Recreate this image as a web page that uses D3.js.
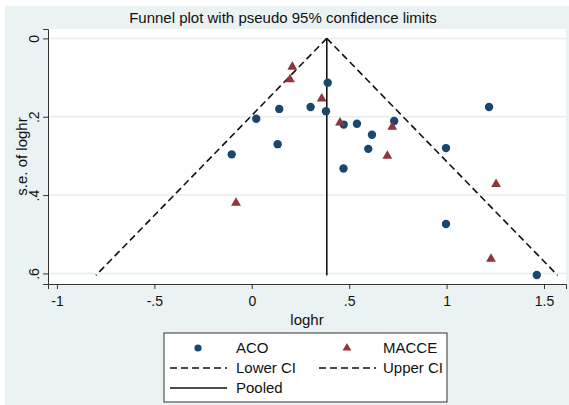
<!DOCTYPE html>
<html>
<head>
<meta charset="utf-8">
<script src="https://cdn.jsdelivr.net/npm/d3@7"></script>
<style>
  body { margin: 0; background: #fff; }
  svg text { font-family: "Liberation Sans", Arial, sans-serif; fill: #111; }
</style>
</head>
<body>
<div id="chart"></div>
<script>
// ACO studies: effect (loghr) and standard error
const acoLoghr = [0.390, 0.141, 0.302, 0.381, 0.023, 0.472, 0.540, 0.617, 0.133, -0.103, 0.598, 0.471, 0.731, 1.218, 0.997, 0.997, 1.463];
const acoSe    = [0.113, 0.180, 0.175, 0.186, 0.205, 0.220, 0.218, 0.246, 0.270, 0.296, 0.282, 0.332, 0.211, 0.175, 0.280, 0.474, 0.604];

// MACCE studies
const macceLoghr = [0.208, 0.196, 0.359, 0.453, -0.081, 0.721, 0.696, 1.254, 1.228];
const macceSe    = [0.0725, 0.105, 0.154, 0.215, 0.420, 0.226, 0.300, 0.372, 0.563];

// pooled estimate and pseudo 95% limits (ends of the lines)
const pooled = 0.385;
const ciSe = [0, 0.605];
const lowerCI = [0.385, -0.80];
const upperCI = [0.385, 1.57];

const xTicks = [-1, -0.5, 0, 0.5, 1, 1.5];
const yTicks = [0, 0.2, 0.4, 0.6];
const legendLabels = ["ACO", "MACCE", "Lower CI", "Upper CI", "Pooled"];

const W = 569, H = 405;
const navy = "#1a476f", maroon = "#90353b";
const plot = { left: 48, right: 566, top: 29, bottom: 284 };

const svg = d3.select("#chart").append("svg")
  .attr("width", W).attr("height", H);

// outer background
svg.append("rect")
  .attr("x", 5).attr("y", 6).attr("width", W - 5).attr("height", H - 6)
  .attr("fill", "#eaf2f3");

svg.append("rect")
  .attr("x", plot.left).attr("y", plot.top)
  .attr("width", plot.right - plot.left).attr("height", plot.bottom - plot.top)
  .attr("fill", "#fff");

const x = d3.scaleLinear().domain([-1.046, 1.613]).range([plot.left, plot.right]);
const y = d3.scaleLinear().domain([-0.024, 0.627]).range([plot.top, plot.bottom]);

const fmt = (d) => d === 0 ? "0" : String(d).replace(/^(-?)0\./, "$1.");

// grid lines
svg.append("g")
  .selectAll("line")
  .data(yTicks)
  .enter()
  .append("line")
  .attr("x1", plot.left).attr("x2", plot.right)
  .attr("y1", (d) => y(d)).attr("y2", (d) => y(d))
  .attr("stroke", "#e3eef0")
  .attr("stroke-width", 1.5);

// axes
const yAxis = svg.append("g")
  .attr("transform", `translate(${plot.left},0)`)
  .call(d3.axisLeft(y).tickValues(yTicks).tickSize(5).tickFormat(fmt));
yAxis.selectAll("text")
  .attr("transform", "rotate(-90)")
  .attr("x", 0).attr("y", -9).attr("dy", 0)
  .style("text-anchor", "middle")
  .style("font-size", "14px");

const xAxis = svg.append("g")
  .attr("transform", `translate(0,${plot.bottom})`)
  .call(d3.axisBottom(x).tickValues(xTicks).tickSize(5).tickFormat(fmt));
xAxis.selectAll("text")
  .attr("y", 12).attr("dy", "0.71em")
  .style("font-size", "14px");

[yAxis, xAxis].forEach((a) => {
  a.select(".domain").attr("stroke", "#333");
  a.selectAll(".tick line").attr("stroke", "#333");
});

// funnel lines
const line = d3.line().x((d) => x(d[0])).y((d) => y(d[1]));
const lowerPts = ciSe.map((s, i) => [lowerCI[i], s]);
const upperPts = ciSe.map((s, i) => [upperCI[i], s]);

svg.append("path")
  .attr("d", line(lowerPts))
  .attr("fill", "none").attr("stroke", "#111")
  .attr("stroke-width", 1.6).attr("stroke-dasharray", "7,4");
svg.append("path")
  .attr("d", line(upperPts))
  .attr("fill", "none").attr("stroke", "#111")
  .attr("stroke-width", 1.6).attr("stroke-dasharray", "7,4");
svg.append("path")
  .attr("d", line([[pooled, ciSe[0]], [pooled, ciSe[1]]]))
  .attr("fill", "none").attr("stroke", "#111")
  .attr("stroke-width", 1.6);

// markers
const tri = d3.symbol().type(d3.symbolTriangle).size(42);

svg.append("g")
  .selectAll("circle")
  .data(acoLoghr.map((v, i) => [v, acoSe[i]]))
  .enter()
  .append("circle")
  .attr("cx", (d) => x(d[0]))
  .attr("cy", (d) => y(d[1]))
  .attr("r", 4.2)
  .attr("fill", navy);

svg.append("g")
  .selectAll("path")
  .data(macceLoghr.map((v, i) => [v, macceSe[i]]))
  .enter()
  .append("path")
  .attr("d", tri)
  .attr("transform", (d) => `translate(${x(d[0])},${y(d[1])})`)
  .attr("fill", maroon);

// titles
svg.append("text")
  .attr("x", 283).attr("y", 23)
  .attr("text-anchor", "middle")
  .style("font-size", "15px")
  .text("Funnel plot with pseudo 95% confidence limits");

svg.append("text")
  .attr("x", (plot.left + plot.right) / 2).attr("y", 325)
  .attr("text-anchor", "middle")
  .style("font-size", "15px")
  .text("loghr");

svg.append("text")
  .attr("transform", `translate(27,${(plot.top + plot.bottom) / 2}) rotate(-90)`)
  .attr("text-anchor", "middle")
  .style("font-size", "15px")
  .text("s.e. of loghr");

// legend
const lg = svg.append("g");
lg.append("rect")
  .attr("x", 164).attr("y", 333).attr("width", 283).attr("height", 69)
  .attr("fill", "#fff").attr("stroke", "#333").attr("stroke-width", 1);

const legendPos = [
  { sx: 198, tx: 236, y: 348, kind: "circle" },
  { sx: 347, tx: 383, y: 348, kind: "tri" },
  { sx: 198, tx: 236, y: 368, kind: "dash" },
  { sx: 347, tx: 383, y: 368, kind: "dash" },
  { sx: 198, tx: 236, y: 388, kind: "solid" }
];

legendPos.forEach((p, i) => {
  if (p.kind === "circle") {
    lg.append("circle").attr("cx", p.sx).attr("cy", p.y).attr("r", 3.6).attr("fill", navy);
  } else if (p.kind === "tri") {
    lg.append("path").attr("d", d3.symbol().type(d3.symbolTriangle).size(34))
      .attr("transform", `translate(${p.sx},${p.y})`).attr("fill", maroon);
  } else {
    lg.append("line")
      .attr("x1", p.sx - 28).attr("x2", p.sx + 29)
      .attr("y1", p.y).attr("y2", p.y)
      .attr("stroke", "#111").attr("stroke-width", 1.5)
      .attr("stroke-dasharray", p.kind === "dash" ? "7,4" : null);
  }
  lg.append("text")
    .attr("x", p.tx).attr("y", p.y + 5)
    .style("font-size", "15px")
    .text(legendLabels[i]);
});
</script>
</body>
</html>
